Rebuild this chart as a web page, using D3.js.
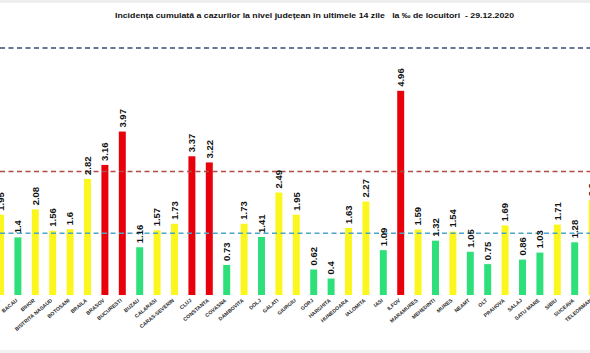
<!DOCTYPE html>
<html>
<head>
<meta charset="utf-8">
<script src="https://cdn.jsdelivr.net/npm/d3@7"></script>
<style>
  body { margin: 0; background: #fff; }
  svg { display: block; }
</style>
</head>
<body>
<div id="canvas"></div>
<script>
const counties = ["ARGES", "BACAU", "BIHOR", "BISTRITA NASAUD", "BOTOSANI", "BRAILA", "BRASOV",
  "BUCURESTI", "BUZAU", "CALARASI", "CARAS-SEVERIN", "CLUJ", "CONSTANTA", "COVASNA",
  "DAMBOVITA", "DOLJ", "GALATI", "GIURGIU", "GORJ", "HARGHITA", "HUNEDOARA", "IALOMITA",
  "IASI", "ILFOV", "MARAMURES", "MEHEDINTI", "MURES", "NEAMT", "OLT", "PRAHOVA", "SALAJ",
  "SATU MARE", "SIBIU", "SUCEAVA", "TELEORMAN"];
const incidence = [1.95, 1.4, 2.08, 1.56, 1.6, 2.82, 3.16, 3.97, 1.16, 1.57, 1.73, 3.37, 3.22, 0.73,
  1.73, 1.41, 2.49, 1.95, 0.62, 0.4, 1.63, 2.27, 1.09, 4.96, 1.59, 1.32, 1.54, 1.05, 0.75,
  1.69, 0.86, 1.03, 1.71, 1.28, 2.3];
const thresholds = [1.5, 3, 6];
const title = "Incidența cumulată a cazurilor la nivel județean în ultimele 14 zile   la ‰ de locuitori  - 29.12.2020";

const width = 590, height = 353;
const baseY = 295;

const svg = d3.select("#canvas").append("svg")
  .attr("width", width)
  .attr("height", height);

// light frame bands of the screenshot
svg.append("rect").attr("x", 0).attr("y", 0).attr("width", width).attr("height", 3).attr("fill", "#eeeeee");
svg.append("rect").attr("x", 0).attr("y", 350).attr("width", width).attr("height", 3).attr("fill", "#f2f2f2");

const x = d3.scaleBand()
  .domain(counties)
  .range([-8.2, -8.2 + counties.length * 17.4])
  .paddingInner(0.6)
  .paddingOuter(0.3);

const y = d3.scaleLinear().domain([0, 6]).range([baseY, 48]);

const color = d3.scaleThreshold()
  .domain([1.5, 3])
  .range(["#2ee07a", "#fbf71e", "#e8000b"]);

const lineColors = ["#4aa6c8", "#b24a45", "#3a4878"];

svg.append("text")
  .attr("x", 115)
  .attr("y", 18)
  .attr("textLength", 399)
  .attr("lengthAdjust", "spacingAndGlyphs")
  .attr("font-family", "Liberation Sans, Arial, sans-serif")
  .attr("font-weight", "bold")
  .attr("font-size", 7.8)
  .attr("fill", "#111")
  .style("white-space", "pre")
  .text(title);

const data = counties.map((c, i) => ({ name: c, value: incidence[i] }));

svg.selectAll("rect.bar")
  .data(data)
  .enter()
  .append("rect")
  .attr("class", "bar")
  .attr("x", d => x(d.name))
  .attr("y", d => y(d.value))
  .attr("width", x.bandwidth())
  .attr("height", d => baseY - y(d.value))
  .attr("fill", d => color(d.value));

// threshold lines
svg.selectAll("line.thr")
  .data(thresholds)
  .enter()
  .append("line")
  .attr("class", "thr")
  .attr("x1", 0)
  .attr("x2", width)
  .attr("y1", d => y(d))
  .attr("y2", d => y(d))
  .attr("stroke", (d, i) => lineColors[i])
  .attr("stroke-width", 1.3)
  .attr("stroke-dasharray", "5,3.5");

// value labels
svg.selectAll("text.val")
  .data(data)
  .enter()
  .append("text")
  .attr("class", "val")
  .attr("transform", d => "translate(" + (x(d.name) + x.bandwidth() / 2) + "," + (y(d.value) - 4) + ") rotate(-90)")
  .attr("dy", "0.35em")
  .attr("font-family", "Liberation Sans Narrow, Liberation Sans, Arial, sans-serif")
  .attr("font-weight", "bold")
  .attr("font-size", 9.5)
  .attr("fill", "#111")
  .text(d => d.value);

// category labels
svg.selectAll("text.cat")
  .data(data)
  .enter()
  .append("text")
  .attr("class", "cat")
  .attr("transform", d => "translate(" + (x(d.name) + x.bandwidth() / 2) + "," + (baseY + 6) + ") rotate(-40)")
  .attr("text-anchor", "end")
  .attr("font-family", "Liberation Sans, Arial, sans-serif")
  .attr("font-weight", "bold")
  .attr("font-size", 5.2)
  .attr("fill", "#2a2a2a")
  .text(d => d.name);
</script>
</body>
</html>
